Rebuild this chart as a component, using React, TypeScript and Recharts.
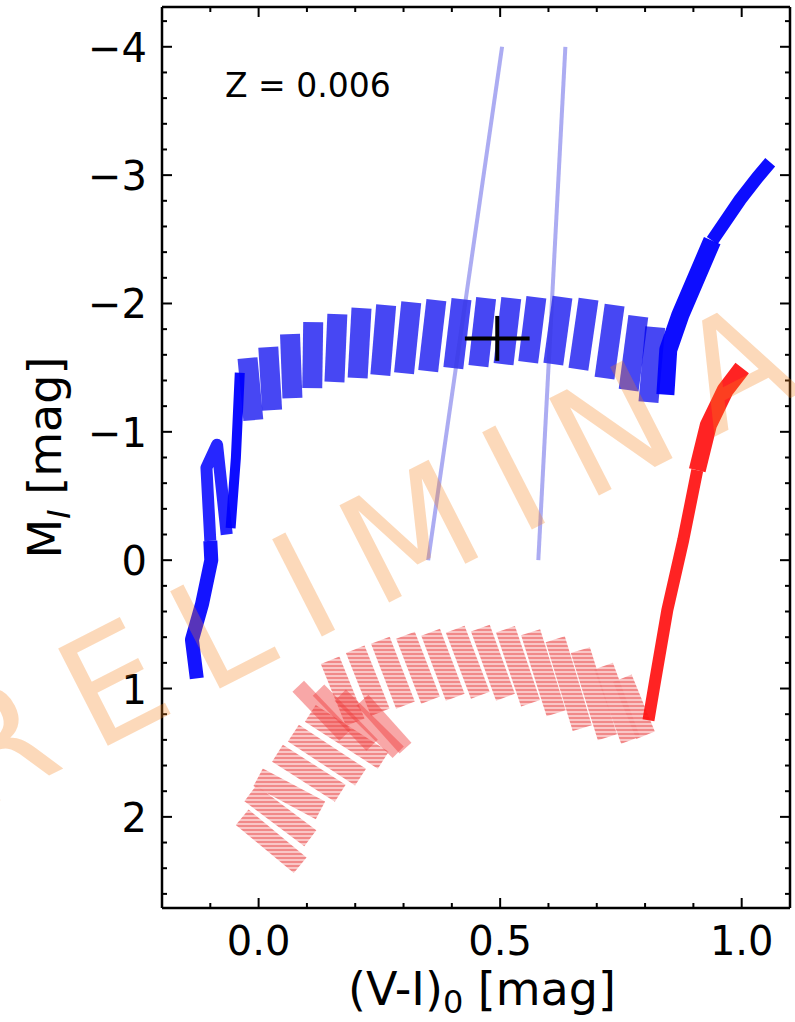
import { ComposedChart, ErrorBar, Line, Scatter, XAxis, YAxis } from "recharts";

type Pt = [number, number];

// (V-I)0 vs M_I, Z = 0.006 model grid

// blue loops: upper and lower end of each loop stripe
const blueLoopUpper: Pt[] = [
  [-0.023, -1.574], [0.02, -1.66], [0.065, -1.761], [0.113, -1.855], [0.163, -1.917],
  [0.213, -1.964], [0.264, -1.987], [0.316, -2.01], [0.368, -2.026], [0.42, -2.034],
  [0.471, -2.042], [0.523, -2.042], [0.575, -2.049], [0.629, -2.049], [0.683, -2.034],
  [0.737, -1.987], [0.786, -1.901], [0.821, -1.816],
];
const blueLoopLower: Pt[] = [
  [-0.011, -1.091], [0.028, -1.169], [0.07, -1.263], [0.111, -1.341], [0.157, -1.388],
  [0.205, -1.419], [0.252, -1.442], [0.301, -1.457], [0.351, -1.473], [0.403, -1.496],
  [0.455, -1.512], [0.507, -1.527], [0.558, -1.543], [0.61, -1.527], [0.662, -1.488],
  [0.716, -1.418], [0.766, -1.325], [0.807, -1.231],
];

// blue tracks before and after the loop
const blueBranchLow: Pt[] = [[-0.128, 0.92], [-0.138, 0.62], [-0.117, 0.34], [-0.098, 0.0], [-0.1, -0.15]];
const blueBranchZig: Pt[] = [[-0.1, -0.15], [-0.108, -0.72], [-0.086, -0.9], [-0.066, -0.2]];
const blueBranchUp: Pt[] = [[-0.058, -0.25], [-0.047, -0.8], [-0.039, -1.46]];
const blueGiantLow: Pt[] = [[0.842, -1.29], [0.848, -1.64], [0.873, -1.91], [0.939, -2.49]];
const blueGiantHigh: Pt[] = [[0.939, -2.49], [0.997, -2.81], [1.032, -2.98], [1.059, -3.1]];

// red tracks: stripe ends on the lower arm, the hook and the arc
const redArmStart: Pt[] = [[-0.034, 2.003], [-0.017, 1.816], [-0.001, 1.691], [0.039, 1.504], [0.072, 1.348], [0.107, 1.193]];
const redArmEnd: Pt[] = [[0.086, 2.377], [0.107, 2.167], [0.128, 1.949], [0.169, 1.816], [0.211, 1.691], [0.258, 1.559]];
const redHookStart: Pt[] = [[0.082, 0.982], [0.124, 1.013], [0.169, 1.052], [0.215, 1.091]];
const redHookEnd: Pt[] = [[0.179, 1.364], [0.235, 1.442], [0.289, 1.496], [0.304, 1.465]];
const redArcUpper: Pt[] = [
  [0.148, 0.779], [0.2, 0.694], [0.252, 0.624], [0.304, 0.585], [0.356, 0.561], [0.407, 0.538],
  [0.459, 0.53], [0.511, 0.538], [0.563, 0.561], [0.614, 0.616], [0.666, 0.701], [0.714, 0.826], [0.753, 0.92],
];
const redArcLower: Pt[] = [
  [0.2, 1.263], [0.252, 1.185], [0.304, 1.13], [0.356, 1.091], [0.407, 1.068], [0.459, 1.052],
  [0.511, 1.068], [0.563, 1.115], [0.616, 1.193], [0.67, 1.309], [0.722, 1.38], [0.77, 1.403], [0.801, 1.364],
];
const redGiantLow: Pt[] = [[0.807, 1.247], [0.821, 0.935], [0.846, 0.39], [0.879, -0.156], [0.908, -0.701]];
const redGiantHigh: Pt[] = [[0.908, -0.701], [0.931, -1.052], [0.966, -1.325], [1.001, -1.497]];

// instability strip edges
const stripBlue: Pt[] = [[0.351, 0.0], [0.504, -4.0]];
const stripRed: Pt[] = [[0.579, 0.0], [0.635, -4.0]];

// observed star with its errors
const star = [{ x: 0.494, y: -1.728, ex: 0.067, ey: 0.175 }];

const xMajor = [0, 0.5, 1.0];
const xTicks = [-0.1, 0, 0.1, 0.2, 0.3, 0.4, 0.5, 0.6, 0.7, 0.8, 0.9, 1.0];
const yMajor = [-4, -3, -2, -1, 0, 1, 2];
const yTicks = [
  -4.2, -4, -3.8, -3.6, -3.4, -3.2, -3, -2.8, -2.6, -2.4, -2.2, -2, -1.8, -1.6, -1.4, -1.2, -1,
  -0.8, -0.6, -0.4, -0.2, 0, 0.2, 0.4, 0.6, 0.8, 1, 1.2, 1.4, 1.6, 1.8, 2, 2.2, 2.4, 2.6,
];

const W = 795;
const H = 1022;
const FONT = "'DejaVu Sans', sans-serif";
const MAJOR = 10;
const MINOR = 5;

const rows = (pts: Pt[]) => pts.map(([x, y]) => ({ x, y }));
const pair = (a: Pt, b: Pt) => rows([a, b]);
const fmtY = (v: number) => (v < 0 ? `\u2212${-v}` : `${v}`);

function BottomTick({ x, y, payload }: any) {
  const major = xMajor.includes(payload.value);
  return (
    <g>
      <line x1={x} x2={x} y1={y} y2={y - (major ? MAJOR : MINOR)} stroke="#000" strokeWidth={2} />
      {major && (
        <text x={x} y={y + 47} textAnchor="middle" fontSize={40} fill="#000">
          {payload.value.toFixed(1)}
        </text>
      )}
    </g>
  );
}

function TopTick({ x, y, payload }: any) {
  const major = xMajor.includes(payload.value);
  return <line x1={x} x2={x} y1={y} y2={y + (major ? MAJOR : MINOR)} stroke="#000" strokeWidth={2} />;
}

function LeftTick({ x, y, payload }: any) {
  const major = yMajor.includes(payload.value);
  return (
    <g>
      <line x1={x} x2={x + (major ? MAJOR : MINOR)} y1={y} y2={y} stroke="#000" strokeWidth={2} />
      {major && (
        <text x={x - 15} y={y + 15} textAnchor="end" fontSize={40} fill="#000">
          {fmtY(payload.value)}
        </text>
      )}
    </g>
  );
}

function RightTick({ x, y, payload }: any) {
  const major = yMajor.includes(payload.value);
  return <line x1={x} x2={x - (major ? MAJOR : MINOR)} y1={y} y2={y} stroke="#000" strokeWidth={2} />;
}

function XTitle({ viewBox }: any) {
  const { x, y, width } = viewBox;
  return (
    <text x={x + width / 2 + 6} y={y + 97} textAnchor="middle" fontSize={46} fill="#000">
      (V-I)
      <tspan fontSize={32} dy={8}>0</tspan>
      <tspan dy={-8}> [mag]</tspan>
    </text>
  );
}

function YTitle({ viewBox }: any) {
  const { y, height } = viewBox;
  const cy = y + height / 2;
  return (
    <text x={61} y={cy} transform={`rotate(-90 61 ${cy})`} textAnchor="middle" fontSize={46} fill="#000">
      M
      <tspan fontSize={32} dy={9} fontStyle="italic">I</tspan>
      <tspan dy={-9}> [mag]</tspan>
    </text>
  );
}

const spine = { stroke: "#000", strokeWidth: 2.5 };

function track(key: string, data: { x: number; y: number }[], stroke: string, width: number, opacity: number) {
  return (
    <Line
      key={key}
      data={data}
      dataKey="y"
      type="linear"
      stroke={stroke}
      strokeWidth={width}
      strokeOpacity={opacity}
      strokeLinecap="butt"
      strokeLinejoin="round"
      dot={false}
      activeDot={false}
      legendType="none"
      isAnimationActive={false}
    />
  );
}

export default function App() {
  return (
    <div style={{ position: "absolute", left: 0, top: 0, width: W, height: H, fontFamily: FONT, background: "#fff" }}>
      <ComposedChart width={W} height={H} margin={{ top: 6, right: 4, bottom: 0, left: 0 }}>
        <defs>
          <pattern id="redHatch" width={8} height={4} patternUnits="userSpaceOnUse">
            <rect width={8} height={4} fill="#f8c0c0" />
            <line x1={0} x2={8} y1={2} y2={2} stroke="#ee6a6a" strokeWidth={1.6} />
          </pattern>
        </defs>
        <XAxis
          type="number"
          dataKey="x"
          domain={[-0.2, 1.1]}
          allowDataOverflow
          ticks={xTicks}
          interval={0}
          tickSize={0}
          tickMargin={0}
          tickLine={false}
          tick={BottomTick}
          axisLine={spine}
          height={114}
          label={{ content: XTitle }}
        />
        <XAxis
          xAxisId="top"
          orientation="top"
          type="number"
          dataKey="x"
          domain={[-0.2, 1.1]}
          allowDataOverflow
          ticks={xTicks}
          interval={0}
          tickSize={0}
          tickMargin={0}
          tickLine={false}
          tick={TopTick}
          axisLine={spine}
          height={1}
        />
        <YAxis
          type="number"
          domain={[-4.31, 2.71]}
          reversed
          allowDataOverflow
          ticks={yTicks}
          interval={0}
          tickSize={0}
          tickMargin={0}
          tickLine={false}
          tick={LeftTick}
          axisLine={spine}
          width={162}
          label={{ content: YTitle }}
        />
        <YAxis
          yAxisId="right"
          orientation="right"
          type="number"
          domain={[-4.31, 2.71]}
          reversed
          allowDataOverflow
          ticks={yTicks}
          interval={0}
          tickSize={0}
          tickMargin={0}
          tickLine={false}
          tick={RightTick}
          axisLine={spine}
          width={1}
        />

        {redArmStart.map((p, i) => track(`ra${i}`, pair(p, redArmEnd[i]), "url(#redHatch)", 20, 0.9))}
        {redArcUpper.map((p, i) => track(`rc${i}`, pair(p, redArcLower[i]), "url(#redHatch)", 20, 0.9))}
        {redHookStart.map((p, i) => track(`rh${i}`, pair(p, redHookEnd[i]), "#f03c3c", 16, 0.45))}
        {track("rg0", rows(redGiantLow), "#ff1010", 12, 0.92)}
        {track("rg1", rows(redGiantHigh), "#ff1010", 17, 0.92)}

        {blueLoopUpper.map((p, i) => track(`bl${i}`, pair(p, blueLoopLower[i]), "#0000ee", 20, 0.72))}
        {track("bb0", rows(blueBranchLow), "#0000ff", 14, 0.92)}
        {track("bb1", rows(blueBranchZig), "#0000ff", 12, 0.85)}
        {track("bb2", rows(blueBranchUp), "#0000ff", 10, 0.95)}
        {track("bg0", rows(blueGiantLow), "#0000ff", 18, 0.95)}
        {track("bg1", rows(blueGiantHigh), "#0000ff", 13, 0.95)}

        {track("is0", rows(stripBlue), "#3a3ae0", 4, 0.42)}
        {track("is1", rows(stripRed), "#3a3ae0", 4, 0.42)}

        <Scatter data={star} dataKey="y" shape={() => <g />} legendType="none" isAnimationActive={false}>
          <ErrorBar dataKey="ex" direction="x" width={0} stroke="#000" strokeWidth={4} isAnimationActive={false} />
          <ErrorBar dataKey="ey" direction="y" width={0} stroke="#000" strokeWidth={4} isAnimationActive={false} />
        </Scatter>
      </ComposedChart>

      <svg width={W} height={H} style={{ position: "absolute", left: 0, top: 0, pointerEvents: "none", fontFamily: FONT }}>
        <text x={225} y={97} fontSize={33} fill="#000">
          Z = 0.006
        </text>
        <text
          x={-134}
          y={869}
          transform="rotate(-27 -134 869)"
          fontSize={150}
          letterSpacing={31}
          fill="#f5821a"
          fillOpacity={0.3}
        >
          PRELIMINARY
        </text>
      </svg>
    </div>
  );
}
